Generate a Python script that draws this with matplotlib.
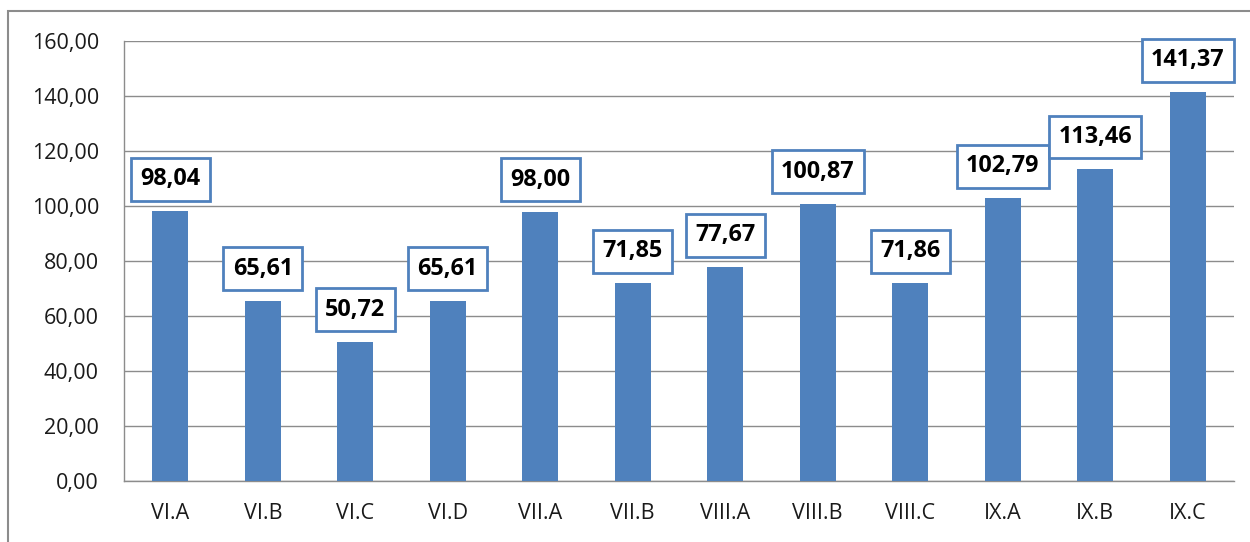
import matplotlib
matplotlib.use("Agg")
import matplotlib.pyplot as plt
from matplotlib.patches import Rectangle

categories = ["VI.A", "VI.B", "VI.C", "VI.D", "VII.A", "VII.B", "VIII.A", "VIII.B", "VIII.C", "IX.A", "IX.B", "IX.C"]
values = [98.04, 65.61, 50.72, 65.61, 98.00, 71.85, 77.67, 100.87, 71.86, 102.79, 113.46, 141.37]
yticks = [0, 20, 40, 60, 80, 100, 120, 140, 160]

def fmt(v):
    return f"{v:.2f}".replace(".", ",")

plt.rcParams['font.family'] = ['Open Sans', 'DejaVu Sans']

fig = plt.figure(figsize=(12.5, 5.42), dpi=100)
ax = fig.add_axes([124/1250, 1 - 481/542, (1234-124)/1250, (481-41)/542])

bar_color = "#4F81BD"
x = list(range(len(categories)))
ax.bar(x, values, width=0.39, color=bar_color, zorder=3)

ax.set_xlim(-0.5, len(categories) - 0.5)
ax.set_ylim(0, 160)
ax.set_yticks(yticks)
ax.set_yticklabels([fmt(v) for v in yticks], fontsize=15.5, color="#1a1a1a")
ax.set_xticks(x)
ax.set_xticklabels(categories, fontsize=15.5, color="#1a1a1a")
ax.tick_params(axis='both', length=0)
ax.tick_params(axis='y', pad=18)
ax.tick_params(axis='x', pad=16)

ax.yaxis.grid(True, color="#8C8C8C", linewidth=1.0, zorder=0)
for s in ["top", "right"]:
    ax.spines[s].set_visible(False)
for s in ["left", "bottom"]:
    ax.spines[s].set_color("#8C8C8C")
    ax.spines[s].set_linewidth(1.0)

for xi, v in zip(x, values):
    ax.annotate(fmt(v), xy=(xi, v), xytext=(0, 23), textcoords="offset points",
                ha="center", va="center", fontsize=16.8, fontweight="bold", color="black",
                bbox=dict(boxstyle="square,pad=0.4", facecolor="white", edgecolor=bar_color, linewidth=2.0),
                zorder=5)

# outer chart border
fig.patches.append(Rectangle((8/1250, -0.01), 1.1, 1 - 11/542 + 0.01, transform=fig.transFigure,
                             fill=False, edgecolor="#8C8C8C", linewidth=1.5))

fig.savefig("out.png", dpi=100, facecolor="white")
